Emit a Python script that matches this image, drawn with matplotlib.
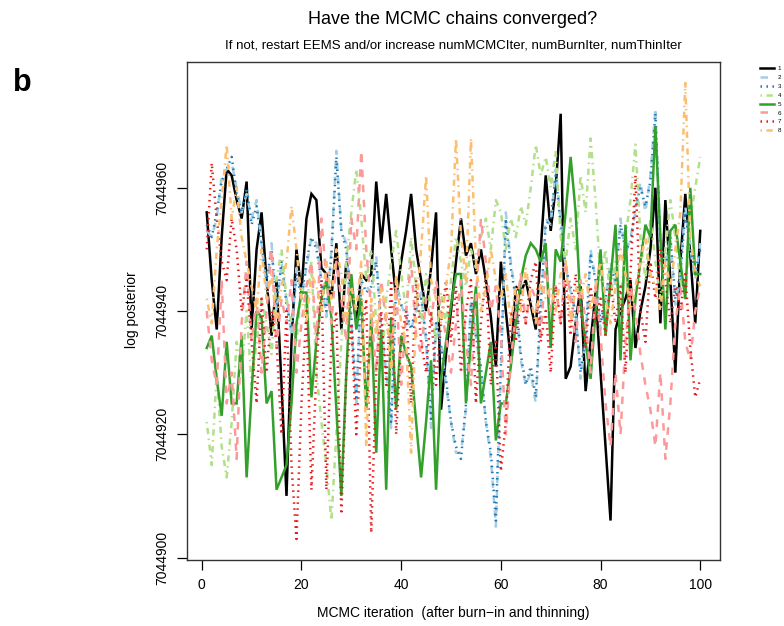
import matplotlib
matplotlib.use("Agg")
import matplotlib.pyplot as plt
import numpy as np

plt.rcParams['font.family'] = ['Liberation Sans', 'DejaVu Sans']

BASE = 7044900
iterations = list(range(1, 101))

chain1 = [56, 45, 37, 52, 63, 62, 58, 55, 61, 37, 50, 56, 45, 36, 45, 28, 10, 35, 50, 43,
          55, 59, 58, 47, 46, 42, 51, 37, 48, 44, 38, 46, 45, 46, 61, 51, 59, 50, 42, 48,
          53, 59, 50, 45, 40, 47, 56, 24, 33, 40, 48, 55, 49, 51, 46, 50, 45, 39, 31, 48,
          40, 32, 44, 43, 45, 41, 37, 50, 62, 53, 60, 72, 29, 31, 38, 44, 27, 35, 43, 30,
          18, 6, 37, 40, 42, 45, 34, 40, 44, 50, 60, 38, 58, 45, 30, 48, 59, 49, 38, 53]
chain2 = [53, 52, 55, 62, 63, 64, 60, 56, 59, 55, 58, 51, 44, 51, 40, 48, 42, 36, 47, 42,
          47, 52, 51, 45, 39, 50, 66, 53, 51, 38, 25, 45, 44, 43, 49, 37, 30, 21, 45, 41,
          39, 37, 40, 43, 35, 21, 38, 35, 28, 22, 17, 17, 24, 42, 36, 30, 22, 16, 5, 30,
          56, 48, 42, 32, 28, 30, 25, 40, 55, 54, 63, 55, 47, 43, 40, 29, 35, 50, 45, 37,
          42, 48, 44, 55, 49, 52, 56, 61, 56, 62, 73, 50, 48, 52, 41, 46, 57, 50, 45, 51]
chain3 = [54, 52, 56, 61, 63, 65, 59, 56, 60, 54, 57, 51, 45, 50, 41, 48, 41, 37, 46, 42,
          48, 52, 50, 45, 40, 49, 65, 53, 50, 39, 26, 45, 43, 44, 48, 38, 31, 22, 44, 41,
          40, 37, 41, 42, 36, 22, 38, 34, 29, 22, 18, 16, 25, 41, 36, 31, 22, 17, 6, 31,
          55, 47, 42, 33, 28, 31, 26, 41, 54, 55, 62, 54, 47, 44, 39, 30, 36, 49, 45, 38,
          42, 47, 45, 54, 50, 51, 57, 60, 57, 61, 72, 51, 47, 52, 42, 46, 56, 50, 46, 50]
chain4 = [22, 15, 30, 18, 13, 22, 35, 30, 40, 28, 35, 42, 38, 33, 45, 50, 42, 38, 35, 44,
          40, 48, 30, 22, 15, 6, 20, 35, 48, 56, 63, 55, 45, 50, 38, 30, 42, 48, 53, 46,
          40, 52, 44, 38, 46, 40, 35, 43, 38, 45, 52, 48, 44, 50, 47, 52, 55, 50, 58, 56,
          50, 55, 52, 57, 54, 60, 67, 62, 65, 60, 66, 52, 48, 55, 50, 62, 56, 68, 58, 45,
          50, 42, 48, 40, 52, 58, 67, 52, 45, 55, 48, 42, 50, 58, 52, 45, 42, 55, 60, 65]
chain5 = [34, 36, 29, 23, 35, 25, 25, 36, 13, 27, 40, 39, 25, 27, 11, 13, 15, 25, 38, 43,
          43, 26, 35, 42, 45, 39, 24, 10, 30, 46, 37, 42, 24, 39, 17, 37, 11, 39, 24, 36,
          33, 31, 22, 13, 22, 32, 11, 29, 35, 41, 46, 46, 25, 35, 44, 25, 30, 35, 19, 25,
          25, 31, 38, 45, 49, 51, 50, 48, 51, 34, 50, 48, 56, 65, 56, 41, 35, 29, 40, 50,
          36, 45, 54, 32, 54, 32, 42, 48, 54, 52, 70, 52, 37, 53, 54, 48, 42, 60, 46, 46]
chain6 = [40, 32, 28, 45, 25, 30, 16, 38, 48, 35, 42, 30, 40, 50, 34, 42, 38, 45, 30, 38,
          44, 48, 35, 55, 45, 38, 48, 42, 35, 55, 50, 66, 50, 40, 30, 45, 38, 35, 44, 28,
          40, 48, 36, 33, 42, 38, 45, 40, 36, 30, 38, 45, 35, 28, 42, 55, 48, 40, 44, 36,
          20, 32, 40, 46, 38, 44, 42, 36, 48, 40, 44, 38, 48, 42, 35, 45, 38, 30, 44, 36,
          25, 18, 30, 20, 35, 44, 40, 33, 28, 24, 18, 30, 16, 25, 38, 44, 35, 32, 40, 44]
chain7 = [50, 64, 55, 48, 45, 55, 50, 40, 45, 35, 25, 42, 30, 40, 35, 20, 40, 15, 3, 25,
          40, 11, 30, 45, 11, 35, 40, 7, 30, 38, 20, 35, 42, 4, 30, 40, 28, 45, 20, 35,
          40, 25, 45, 35, 30, 40, 28, 38, 45, 35, 44, 30, 40, 45, 25, 38, 46, 28, 35, 14,
          22, 40, 35, 42, 38, 45, 48, 35, 40, 30, 44, 38, 45, 36, 46, 40, 34, 44, 38, 42,
          36, 45, 38, 44, 30, 46, 62, 40, 35, 48, 42, 50, 45, 38, 44, 40, 46, 34, 26, 29]
chain8 = [42, 38, 50, 58, 67, 55, 60, 52, 48, 44, 40, 50, 42, 46, 38, 44, 48, 57, 50, 42,
          38, 46, 44, 40, 48, 42, 50, 46, 38, 44, 40, 48, 18, 42, 36, 44, 40, 30, 46, 38,
          35, 17, 40, 50, 62, 45, 42, 38, 44, 50, 68, 52, 45, 68, 48, 40, 44, 50, 45, 42,
          46, 38, 44, 40, 47, 42, 38, 45, 42, 44, 40, 46, 48, 38, 44, 42, 46, 40, 44, 48,
          42, 38, 44, 50, 46, 40, 44, 48, 52, 46, 44, 40, 48, 44, 50, 56, 77, 52, 46, 44]

chains = [chain1, chain2, chain3, chain4, chain5, chain6, chain7, chain8]
chain_labels = ["1", "2", "3", "4", "5", "6", "7", "8"]
colors = ["#000000", "#A6CEE3", "#1F78B4", "#B2DF8A", "#33A02C", "#FB9A99", "#E31A1C", "#FDBF6F"]
dash_patterns = [None, (3, 3), (0.6, 1.8), (0.6, 1.8, 2.5, 1.8)]

title = "Have the MCMC chains converged?"
subtitle = "If not, restart EEMS and/or increase numMCMCIter, numBurnIter, numThinIter"
xlabel = "MCMC iteration  (after burn\u2212in and thinning)"
ylabel = "log posterior"
xticks = [0, 20, 40, 60, 80, 100]
yticks = [7044900, 7044920, 7044940, 7044960]

fig = plt.figure(figsize=(7.84, 6.26), dpi=100)
ax = fig.add_axes([187/784, 1 - 560/626, (720-187)/784, (560-62)/626])

x = np.array(iterations)
for k, (vals, col) in enumerate(zip(chains, colors)):
    y = BASE + np.array(vals, dtype=float)
    dp = dash_patterns[k % 4]
    line, = ax.plot(x, y, color=col, lw=1.8, label=chain_labels[k],
                    solid_joinstyle='miter')
    if dp is not None:
        line.set_dashes(dp)
        line.set_dash_capstyle('butt')

ax.set_xlim(-2.96, 103.96)
ax.set_ylim(7044899.6, 7044980.4)
ax.set_xticks(xticks)
ax.set_xticklabels([str(t) for t in xticks])
ax.set_yticks(yticks)
ax.set_yticklabels([str(t) for t in yticks], rotation=90, va='center')
ax.tick_params(direction='out', length=7, width=0.9, labelsize=10, pad=6)
for s in ax.spines.values():
    s.set_linewidth(1.0)
    s.set_color('#333333')

fig.text(453/784, 1 - 20/626, title, ha='center', va='center', fontsize=13)
fig.text(453/784, 1 - 45/626, subtitle, ha='center', va='center', fontsize=9.5)
fig.text(453/784, 1 - 613/626, xlabel, ha='center', va='center', fontsize=10)
fig.text(132/784, 1 - 310/626, ylabel, ha='center', va='center', fontsize=10, rotation=90)
fig.text(22/784, 1 - 83/626, "b", ha='center', va='center', fontsize=22, fontweight='bold')

leg = ax.legend(loc='upper left', bbox_to_anchor=(757/784, 1 - 63/626),
                bbox_transform=fig.transFigure, frameon=False, fontsize=4.5,
                handlelength=2.2, handletextpad=0.6, labelspacing=0.55, borderpad=0)

fig.savefig("out.png", dpi=100)
